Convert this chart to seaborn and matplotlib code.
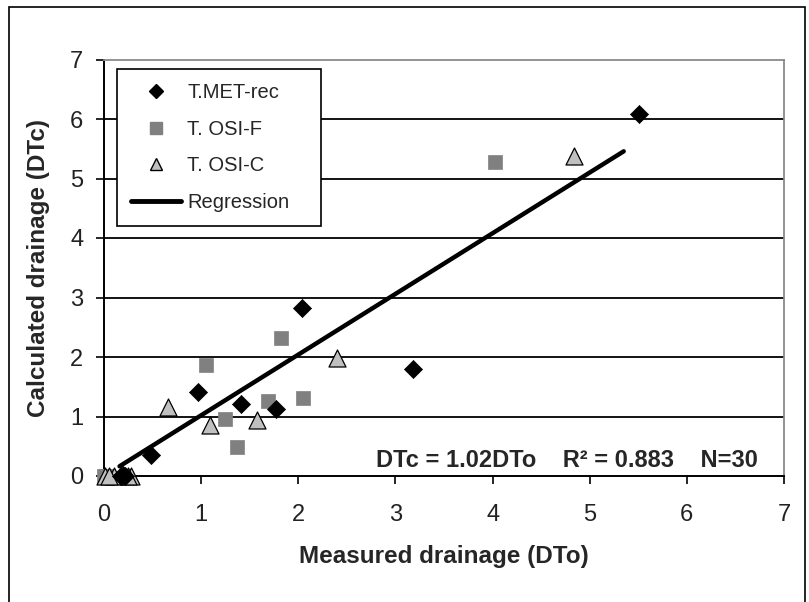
import matplotlib
matplotlib.use("Agg")
import matplotlib.pyplot as plt
from matplotlib.lines import Line2D
from matplotlib.patches import Rectangle
import seaborn as sns
import numpy as np
import pandas as pd

# ---- data ----
met_x = [0.20, 0.48, 0.97, 1.41, 1.77, 2.04, 3.18, 5.51, 0.18, 0.22]
met_y = [0.02, 0.35, 1.42, 1.21, 1.13, 2.82, 1.79, 6.08, 0.00, 0.00]
osif_x = [0.00, 1.05, 1.82, 1.25, 1.37, 1.69, 2.05, 4.02, 0.02, 0.04]
osif_y = [0.00, 1.86, 2.32, 0.95, 0.48, 1.26, 1.31, 5.28, 0.00, 0.00]
osic_x = [0.01, 0.10, 0.28, 0.66, 1.09, 1.58, 2.40, 4.84, 0.05, 0.25]
osic_y = [0.00, 0.00, 0.00, 1.16, 0.85, 0.94, 1.99, 5.37, 0.00, 0.00]
reg_x = [0.16, 5.35]
reg_slope = 1.02
series_names = ["T.MET-rec", "T. OSI-F", "T. OSI-C"]
annotation = "DTc = 1.02DTo    R\u00b2 = 0.883    N=30"
x_ticks = [0, 1, 2, 3, 4, 5, 6, 7]
y_ticks = [0, 1, 2, 3, 4, 5, 6, 7]

sns.set_theme(style="white")
plt.rcParams['font.family'] = ['Liberation Sans', 'DejaVu Sans']

fig = plt.figure(figsize=(8.09, 6.02), dpi=100)
ax = fig.add_axes([104/809, 1-476/602, 680/809, 416.5/602])

df = pd.DataFrame({
    "x": met_x + osif_x + osic_x,
    "y": met_y + osif_y + osic_y,
    "s": [series_names[0]]*len(met_x) + [series_names[1]]*len(osif_x) + [series_names[2]]*len(osic_x),
})

# gridlines
for yv in y_ticks[1:-1]:
    ax.axhline(yv, color="#000000", lw=1.3, zorder=1)

reg_y = [reg_slope*v for v in reg_x]
sns.lineplot(x=reg_x, y=reg_y, ax=ax, color="black", lw=3.2, zorder=2, legend=False)

styles = {
    series_names[0]: dict(marker="D", color="black", s=85, edgecolor="black", linewidth=0.5),
    series_names[1]: dict(marker="s", color="#808080", s=110, edgecolor="#808080", linewidth=0.5),
    series_names[2]: dict(marker="^", color="#c0c0c0", s=150, edgecolor="black", linewidth=0.9),
}
for name in [series_names[1], series_names[2], series_names[0]]:
    sub = df[df["s"] == name]
    sns.scatterplot(data=sub, x="x", y="y", ax=ax, zorder=3, legend=False, clip_on=False, **styles[name])

ax.set_xlim(0, 7)
ax.set_ylim(0, 7)
ax.set_xticks(x_ticks)
ax.set_yticks(y_ticks)
ax.tick_params(axis="both", which="both", direction="out", length=6, width=1.2,
               colors="#000000", labelcolor="#222222", labelsize=17, bottom=True, left=True)
ax.tick_params(axis="x", pad=14)
ax.tick_params(axis="y", pad=9)
for lab in ax.get_xticklabels() + ax.get_yticklabels():
    lab.set_fontweight("light")

for side in ["left", "bottom"]:
    ax.spines[side].set_color("black")
    ax.spines[side].set_linewidth(1.4)
for side in ["top", "right"]:
    ax.spines[side].set_color("#8a8a8a")
    ax.spines[side].set_linewidth(1.3)

ax.set_xlabel("Measured drainage (DTo)", fontsize=17.5, fontweight="bold", labelpad=14)
ax.set_ylabel("Calculated drainage (DTc)", fontsize=17.5, fontweight="bold", labelpad=14)

ax.text(0.961, 0.038, annotation, transform=ax.transAxes, ha="right", va="center",
        fontsize=17, fontweight="bold")

handles = [
    Line2D([], [], marker="D", color="black", ls="none", markersize=7),
    Line2D([], [], marker="s", color="#808080", ls="none", markersize=8),
    Line2D([], [], marker="^", markerfacecolor="#c0c0c0", markeredgecolor="black", ls="none", markersize=8),
    Line2D([], [], color="black", lw=3.5),
]
leg = ax.legend(handles, series_names + ["Regression"], loc="upper left",
                bbox_to_anchor=(0.0187, 0.603, 0.30, 0.3735), mode="expand",
                borderaxespad=0, fontsize=14.5,
                frameon=True, fancybox=False, edgecolor="black", framealpha=1,
                handlelength=2.5, handletextpad=0.3, labelspacing=0.87,
                borderpad=0.7)
leg.get_frame().set_linewidth(1.2)

fig.patches.append(Rectangle((9/809, 1-605/602), 796/809, 598/602, transform=fig.transFigure,
                             fill=False, edgecolor="black", lw=1.2))

fig.savefig("out.png", dpi=100)
